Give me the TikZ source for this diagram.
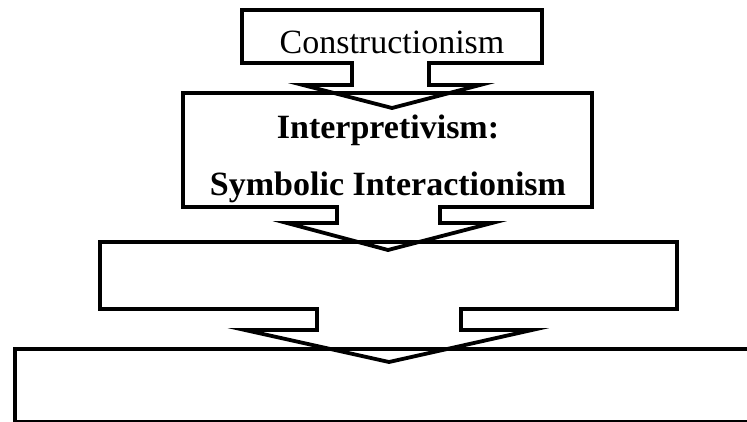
\documentclass[tikz,border=0pt]{standalone}
\usepackage{fontspec}
\setmainfont{Liberation Serif}
\begin{document}
\begin{tikzpicture}[x=1pt,y=-1pt,
  callout/.style={draw=black,line width=3.8pt,line join=miter,miter limit=10},
  lbl/.style={inner sep=0pt,anchor=base,font=\fontsize{34}{40}\selectfont}]
\useasboundingbox (0,0) rectangle (747,421);
% shape 1
\draw[callout] (242,10) -- (542,10) -- (542,63) -- (429,63) -- (429,85) -- (480,85)
  -- (392,108) -- (303,85) -- (352,85) -- (352,63) -- (242,63) -- cycle;
% shape 2
\draw[callout] (183,93) -- (592,93) -- (592,207) -- (440,207) -- (440,223) -- (492,223)
  -- (388,250) -- (287,223) -- (337,223) -- (337,207) -- (183,207) -- cycle;
% shape 3
\draw[callout] (100,242) -- (677,242) -- (677,309) -- (461,309) -- (461,330) -- (532,330)
  -- (389,362) -- (245,330) -- (317,330) -- (317,309) -- (100,309) -- cycle;
% box 4
\draw[callout] (15,349) rectangle (800,421.5);
\node[lbl] (c) at (392,53) {Constructionism};
\node[lbl,font=\fontsize{34}{40}\selectfont\bfseries] (i1) at (388,138) {Interpretivism:};
\node[lbl,font=\fontsize{34}{40}\selectfont\bfseries] (i2) at (388,195) {Symbolic Interactionism};
\end{tikzpicture}
\end{document}
